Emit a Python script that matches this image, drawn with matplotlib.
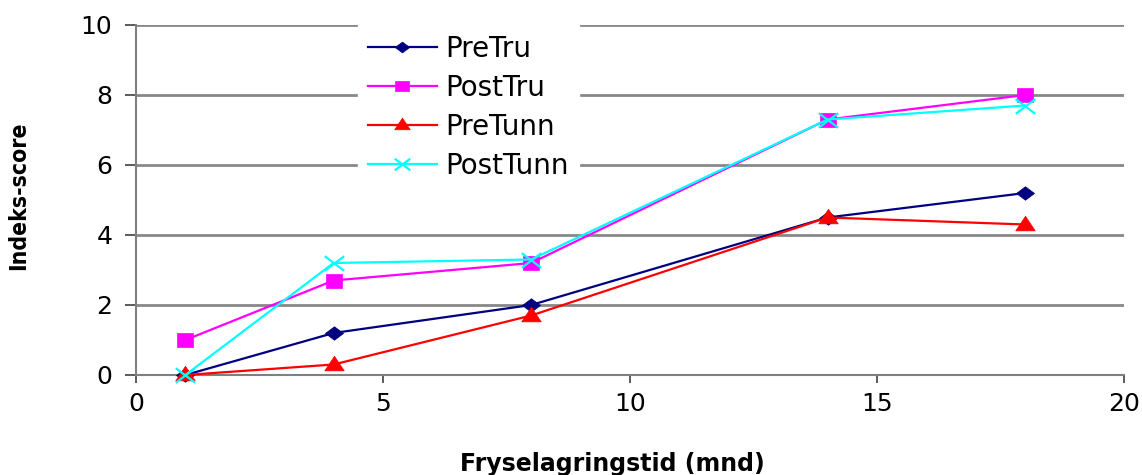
import matplotlib
matplotlib.use("Agg")
import matplotlib.pyplot as plt
from matplotlib.path import Path

plt.rcParams['font.family'] = ['DejaVu Sans']

months = [1, 4, 8, 14, 18]
pre_tru = [0.0, 1.2, 2.0, 4.5, 5.2]
post_tru = [1.0, 2.7, 3.2, 7.3, 8.0]
pre_tunn = [0.0, 0.3, 1.7, 4.5, 4.3]
post_tunn = [0.0, 3.2, 3.3, 7.3, 7.7]

# slightly widened marker shapes
diamond = [(-1, 0), (0, 0.75), (1, 0), (0, -0.75), (-1, 0)]
square = [(-1, -0.8), (1, -0.8), (1, 0.8), (-1, 0.8), (-1, -0.8)]
triangle = [(-1, -0.55), (1, -0.55), (0, 0.95), (-1, -0.55)]
cross = Path([(-1, -0.75), (1, 0.75), (-1, 0.75), (1, -0.75)],
             [Path.MOVETO, Path.LINETO, Path.MOVETO, Path.LINETO])

series = [
    ("PreTru", pre_tru, "#000080", diamond, 13),
    ("PostTru", post_tru, "#FF00FF", square, 12),
    ("PreTunn", pre_tunn, "#FF0000", triangle, 14),
    ("PostTunn", post_tunn, "#00FFFF", cross, 14),
]

fig = plt.figure(figsize=(11.42, 4.75), dpi=100)
ax = fig.add_axes([136 / 1142, 1 - 375 / 475, (1124 - 136) / 1142, 350 / 475])

for name, vals, col, mk, ms in series:
    if isinstance(mk, Path):
        ax.plot(months, vals, color=col, marker=mk, markersize=ms, linewidth=1.6,
                markerfacecolor="none", markeredgecolor=col, markeredgewidth=1.6,
                label=name, clip_on=False, zorder=3)
    else:
        ax.plot(months, vals, color=col, marker=mk, markersize=ms, linewidth=1.6,
                markerfacecolor=col, markeredgecolor=col, markeredgewidth=0.5,
                label=name, clip_on=False, zorder=3)

ax.set_xlim(0, 20)
ax.set_ylim(0, 10)
ax.set_xticks([0, 5, 10, 15, 20])
ax.set_yticks([0, 2, 4, 6, 8, 10])
ax.yaxis.grid(True, color="#888888", linewidth=2)
ax.set_axisbelow(True)
for s in ("top", "right"):
    ax.spines[s].set_visible(False)
for s in ("left", "bottom"):
    ax.spines[s].set_color("#808080")
    ax.spines[s].set_linewidth(1.5)
ax.tick_params(axis="both", direction="out", width=1.2, color="#404040", labelsize=18)
ax.tick_params(axis="y", length=8, pad=9)
ax.tick_params(axis="x", length=6, pad=6)

ax.set_xlabel("Fryselagringstid (mnd)", fontsize=17, fontweight="bold", va="top")
ax.xaxis.set_label_coords(0.482, -0.22)
ax.set_ylabel("Indeks-score", fontsize=16.5, fontweight="bold", fontstretch="condensed")
ax.yaxis.set_label_coords(-0.107, 0.511)

leg = ax.legend(loc="upper left", bbox_to_anchor=(222 / 988, 1.0), fontsize=20,
                frameon=True, fancybox=False, edgecolor="white", framealpha=1.0,
                handlelength=2.5, handletextpad=0.3, labelspacing=0.4,
                borderpad=0.35, borderaxespad=0, markerscale=0.8)
leg.set_zorder(5)

fig.savefig("out.png", dpi=100)
